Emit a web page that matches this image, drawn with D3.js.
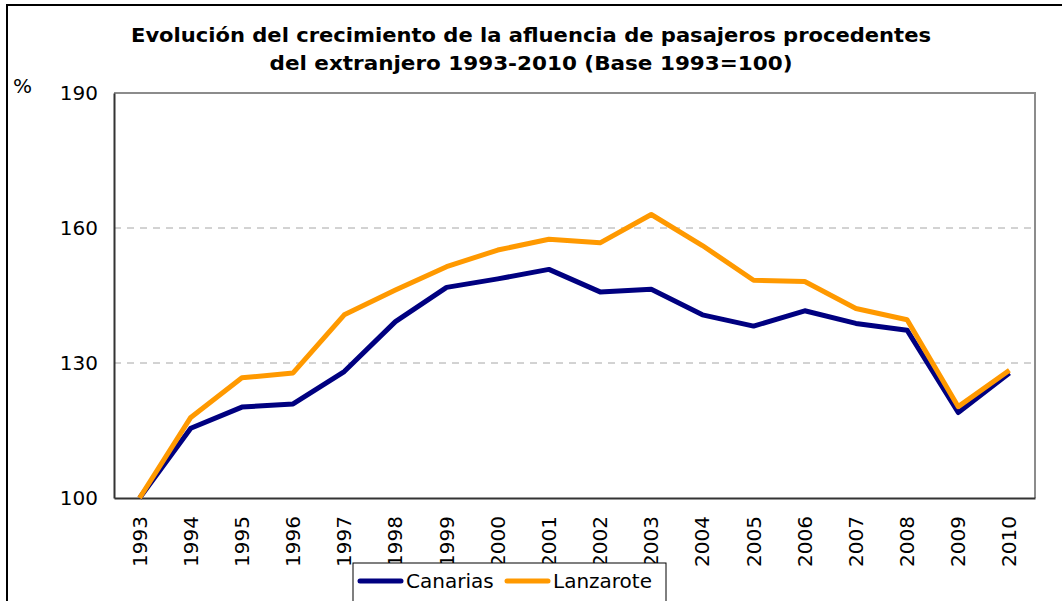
<!DOCTYPE html>
<meta charset="utf-8" />
<script src="https://d3js.org/d3.v7.min.js"></script>
<style>
  body { margin: 0; background: #fff; }
  text { font-family: "DejaVu Sans", Verdana, sans-serif; }
</style>
<body>
  <div id="chart"></div>
  <script>
    // data
    const years = ["1993", "1994", "1995", "1996", "1997", "1998", "1999", "2000", "2001",
      "2002", "2003", "2004", "2005", "2006", "2007", "2008", "2009", "2010"];
    const canarias = [100, 115.5, 120.2, 120.9, 128.1, 139.2, 146.8, 148.7, 150.8,
      145.8, 146.4, 140.7, 138.2, 141.6, 138.8, 137.3, 119.0, 127.8];
    const lanzarote = [100, 117.9, 126.7, 127.8, 140.7, 146.2, 151.4, 155.1, 157.5,
      156.7, 163.0, 156.1, 148.4, 148.1, 142.1, 139.6, 120.3, 128.4];
    const yTicks = [100, 130, 160, 190];
    const titleLines = [
      "Evolución del crecimiento de la afluencia de pasajeros procedentes",
      "del extranjero 1993-2010 (Base 1993=100)"
    ];
    const titleWidths = [800, 523];

    const W = 1062, H = 601;
    const margin = { top: 93, right: 27, bottom: 103, left: 114 };
    const width = W - margin.left - margin.right,
      height = H - margin.top - margin.bottom;

    const svg = d3.select("#chart").append("svg")
      .attr("width", W).attr("height", H);

    // outer chart border
    svg.append("rect")
      .attr("x", 7).attr("y", 5)
      .attr("width", W + 10).attr("height", H + 10)
      .attr("fill", "#fff").attr("stroke", "#000").attr("stroke-width", 2);

    // title
    svg.append("g").selectAll("text")
      .data(titleLines)
      .enter().append("text")
      .attr("x", 531)
      .attr("y", (d, i) => 42 + i * 28)
      .attr("text-anchor", "middle")
      .attr("textLength", (d, i) => titleWidths[i])
      .attr("lengthAdjust", "spacingAndGlyphs")
      .style("font-size", "20px")
      .style("font-weight", "bold")
      .text(d => d);

    const g = svg.append("g")
      .attr("transform", "translate(" + margin.left + "," + margin.top + ")");

    const x = d3.scaleBand().domain(years).range([0, width]);
    const y = d3.scaleLinear().domain([100, 190]).range([height, 0]);

    // gridlines
    g.append("g").selectAll("line")
      .data(yTicks.filter(d => d > 100 && d < 190))
      .enter().append("line")
      .attr("x1", 0).attr("x2", width)
      .attr("y1", d => y(d)).attr("y2", d => y(d))
      .attr("stroke", "#a6a6a6")
      .attr("stroke-dasharray", "7,6");

    // plot frame (top/right gray)
    g.append("path")
      .attr("d", "M0,0H" + width + "V" + height)
      .attr("fill", "none").attr("stroke", "#8c8c8c").attr("stroke-width", 2);

    // y axis
    const yAxis = g.append("g")
      .call(d3.axisLeft(y).tickValues(yTicks).tickSize(0).tickPadding(16));
    yAxis.select(".domain").attr("stroke", "#333").attr("stroke-width", 2);
    yAxis.selectAll("text")
      .style("font-size", "20px")
      .style("font-family", "DejaVu Sans, sans-serif")
      .attr("fill", "#000");

    // x axis
    const xAxis = g.append("g")
      .attr("transform", "translate(0," + height + ")")
      .call(d3.axisBottom(x).tickSize(0));
    xAxis.select(".domain").attr("stroke", "#333").attr("stroke-width", 2);
    xAxis.selectAll("text")
      .style("font-size", "20px")
      .style("font-family", "DejaVu Sans, sans-serif")
      .attr("fill", "#000")
      .attr("transform", "rotate(-90)")
      .attr("x", -18)
      .attr("y", 0)
      .attr("dy", "0.35em")
      .style("text-anchor", "end");

    svg.append("text")
      .attr("x", 13).attr("y", 93)
      .style("font-size", "20px")
      .text("%");

    const line = d3.line()
      .x((d, i) => x(years[i]) + x.bandwidth() / 2)
      .y(d => y(d));

    const series = [
      { name: "Canarias", values: canarias, color: "#000080" },
      { name: "Lanzarote", values: lanzarote, color: "#ff9900" }
    ];

    g.selectAll(".series")
      .data(series)
      .enter().append("path")
      .attr("class", "series")
      .attr("d", d => line(d.values))
      .attr("fill", "none")
      .attr("stroke", d => d.color)
      .attr("stroke-width", 5)
      .attr("stroke-linejoin", "round");

    // legend
    const legend = svg.append("g").attr("transform", "translate(353,563)");
    legend.append("rect")
      .attr("width", 313).attr("height", 50)
      .attr("fill", "#fff").attr("stroke", "#000").attr("stroke-width", 1);
    const items = legend.selectAll(".item")
      .data(series)
      .enter().append("g")
      .attr("transform", (d, i) => "translate(" + (7 + i * 147) + ",18)");
    items.append("line")
      .attr("x1", 0).attr("x2", 41)
      .attr("stroke", d => d.color)
      .attr("stroke-width", 5)
      .attr("stroke-linecap", "round");
    items.append("text")
      .attr("x", 46).attr("dy", "0.35em")
      .style("font-size", "20px")
      .text(d => d.name);
  </script>
</body>
